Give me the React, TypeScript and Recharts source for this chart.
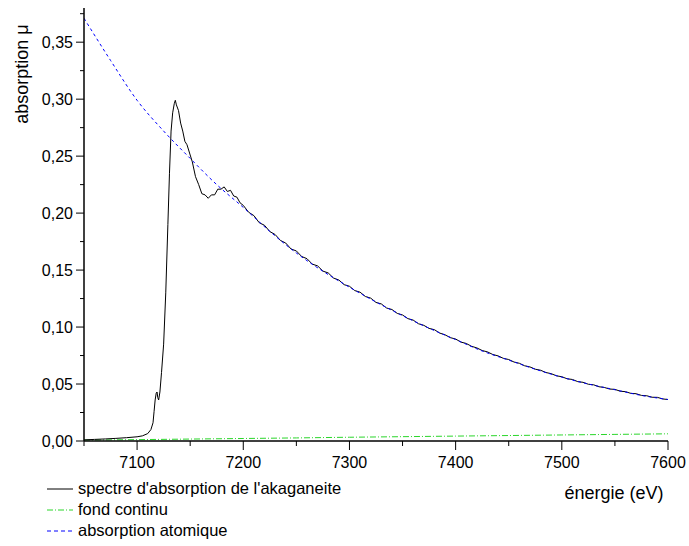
import React from 'react';
import { LineChart, Line, XAxis, YAxis } from 'recharts';

// ---- data ----
const spectreEnergy = [
  7050, 7060, 7070, 7080, 7090, 7100, 7105, 7110, 7113, 7115, 7116, 7117, 7118, 7118.8, 7119.5, 7120.3,
  7121.5, 7123, 7125, 7127, 7129, 7130.5, 7132, 7133.5, 7135, 7136, 7137, 7139, 7141, 7143, 7145, 7147,
  7150, 7152, 7155, 7158, 7161, 7164, 7167, 7170, 7173, 7176, 7179, 7182, 7185, 7188, 7191, 7194, 7197,
  7200, 7205, 7210, 7215, 7220, 7225, 7230, 7235, 7240, 7245, 7250, 7255, 7260, 7265, 7270, 7275, 7280,
  7285, 7290, 7295, 7300, 7305, 7310, 7315, 7320, 7325, 7330, 7335, 7340, 7345, 7350, 7355, 7360, 7365,
  7370, 7375, 7380, 7385, 7390, 7395, 7400, 7405, 7410, 7415, 7420, 7425, 7430, 7435, 7440, 7445, 7450,
  7455, 7460, 7465, 7470, 7475, 7480, 7485, 7490, 7495, 7500, 7505, 7510, 7515, 7520, 7525, 7530, 7535,
  7540, 7545, 7550, 7555, 7560, 7565, 7570, 7575, 7580, 7585, 7590, 7595, 7600,
];
const spectreMu = [
  0.0010, 0.0014, 0.0018, 0.0023, 0.0029, 0.0037, 0.0045, 0.0065, 0.0100, 0.0160, 0.026, 0.036, 0.042, 0.043, 0.038, 0.036,
  0.043, 0.060, 0.085, 0.130, 0.190, 0.235, 0.272, 0.288, 0.296, 0.299, 0.295, 0.290, 0.279, 0.272, 0.263, 0.260,
  0.251, 0.245, 0.232, 0.225, 0.217, 0.216, 0.213, 0.216, 0.216, 0.221, 0.221, 0.223, 0.219, 0.220, 0.215, 0.214, 0.209,
  0.2068, 0.2008, 0.1978, 0.1916, 0.1893, 0.1838, 0.1812, 0.1760, 0.1737, 0.1685, 0.1668, 0.1619, 0.1600, 0.1552, 0.1537, 0.1491, 0.1475,
  0.1430, 0.1413, 0.1372, 0.1358, 0.1320, 0.1306, 0.1268, 0.1254, 0.1216, 0.1203, 0.1167, 0.1154, 0.1120, 0.1106, 0.1074, 0.1061, 0.1029,
  0.1015, 0.0988, 0.0977, 0.0947, 0.0932, 0.0907, 0.0895, 0.0868, 0.0856, 0.0831, 0.0817, 0.0794, 0.0782, 0.0759, 0.0747, 0.0725, 0.0715,
  0.0693, 0.0682, 0.0660, 0.0650, 0.0630, 0.0621, 0.0601, 0.0591, 0.0572, 0.0564, 0.0546, 0.0540, 0.0521, 0.0515, 0.0498, 0.0493, 0.0476,
  0.0470, 0.0456, 0.0453, 0.0437, 0.0433, 0.0418, 0.0415, 0.0400, 0.0397, 0.0384, 0.0383, 0.0369, 0.0364,
];

const fondEnergy = [7050, 7100, 7150, 7200, 7250, 7300, 7350, 7400, 7450, 7500, 7550, 7600];
const fondMu = [0.0008, 0.0012, 0.0017, 0.0022, 0.0027, 0.0033, 0.0038, 0.0043, 0.0048, 0.0053, 0.0058, 0.0063];

const atomEnergy = [7050, 7075, 7100, 7125, 7150, 7175, 7200, 7225, 7250, 7275, 7300, 7325, 7350, 7375, 7400, 7425, 7450, 7475, 7500, 7525, 7550, 7575, 7600];
const atomMu = [0.371, 0.334, 0.299, 0.272, 0.248, 0.225, 0.205, 0.184, 0.165, 0.149, 0.135, 0.122, 0.110, 0.099, 0.089, 0.079, 0.071, 0.063, 0.056, 0.050, 0.045, 0.040, 0.0364];

const xTicks = [7050, 7100, 7150, 7200, 7250, 7300, 7350, 7400, 7450, 7500, 7550, 7600];
const xMajor = [7100, 7200, 7300, 7400, 7500, 7600];
const yTicks = [0, 0.025, 0.05, 0.075, 0.1, 0.125, 0.15, 0.175, 0.2, 0.225, 0.25, 0.275, 0.3, 0.325, 0.35, 0.375];
const yMajor = [0, 0.05, 0.1, 0.15, 0.2, 0.25, 0.3, 0.35];

const legendLabels = ["spectre d'absorption de l'akaganeite", 'fond continu', 'absorption atomique'];

const spectreData = spectreEnergy.map((e, i) => ({ e, mu: spectreMu[i] }));
const fondData = fondEnergy.map((e, i) => ({ e, mu: fondMu[i] }));
const atomData = atomEnergy.map((e, i) => ({ e, mu: atomMu[i] }));

const FONT = '"Liberation Sans", Arial, sans-serif';
const GREEN = '#2bd62b';
const BLUE = '#0000ff';

const XTick = (props: any) => {
  const { x, y, payload } = props;
  const major = xMajor.includes(payload.value);
  return (
    <g>
      <line x1={x} x2={x} y1={y} y2={y + (major ? 9 : 5)} stroke="#000" strokeWidth={1} />
      {major && (
        <text x={x} y={y + 27} textAnchor="middle" fontSize={16} fontFamily={FONT} fill="#000">
          {payload.value}
        </text>
      )}
    </g>
  );
};

const YTick = (props: any) => {
  const { x, y, payload } = props;
  const major = yMajor.some((m) => Math.abs(m - payload.value) < 1e-9);
  return (
    <g>
      <line x1={x - (major ? 8 : 4)} x2={x} y1={y} y2={y} stroke="#000" strokeWidth={1} />
      {major && (
        <text x={x - 11} y={y + 6} textAnchor="end" fontSize={16} fontFamily={FONT} fill="#000">
          {payload.value.toFixed(2).replace('.', ',')}
        </text>
      )}
    </g>
  );
};

const legendStyles = [
  { stroke: '#000', dash: undefined as string | undefined },
  { stroke: GREEN, dash: '6 2 1 2' },
  { stroke: BLUE, dash: '4 3' },
];

export default function App() {
  return (
    <div style={{ position: 'absolute', left: 0, top: 0, width: 689, height: 546, background: '#fff' }}>
      <LineChart width={689} height={546} margin={{ top: 8, right: 21, left: 0, bottom: 75 }}>
        <XAxis
          dataKey="e"
          type="number"
          domain={[7050, 7600]}
          ticks={xTicks}
          interval={0}
          allowDataOverflow
          tickSize={0}
          tickMargin={0}
          tickLine={false}
          tick={<XTick />}
          axisLine={{ stroke: '#000', strokeWidth: 1.5 }}
          height={30}
          label={(p: any) => {
            const vb = p.viewBox || {};
            return (
              <text x={vb.x + vb.width - 54} y={vb.y + 58} textAnchor="middle" fontSize={18} fontFamily={FONT} fill="#000">
                énergie (eV)
              </text>
            );
          }}
        />
        <YAxis
          type="number"
          domain={[0, 0.38]}
          ticks={yTicks}
          interval={0}
          allowDataOverflow
          width={84}
          tickSize={0}
          tickMargin={0}
          tickLine={false}
          tick={<YTick />}
          axisLine={{ stroke: '#000', strokeWidth: 1.5 }}
          label={() => (
            <text x={28} y={74} transform="rotate(-90 28 74)" textAnchor="middle" fontSize={18} fontFamily={FONT} fill="#000">
              absorption μ
            </text>
          )}
        />
        <Line data={fondData} dataKey="mu" type="linear" stroke={GREEN} strokeWidth={1} strokeDasharray="6 2 1 2" dot={false} isAnimationActive={false} />
        <Line data={spectreData} dataKey="mu" type="linear" stroke="#000" strokeWidth={1} dot={false} isAnimationActive={false} />
        <Line data={atomData} dataKey="mu" type="monotone" stroke={BLUE} strokeWidth={1} strokeDasharray="3 3" dot={false} isAnimationActive={false} />
      </LineChart>
      <div style={{ position: 'absolute', left: 0, top: 0, width: 689, height: 546, pointerEvents: 'none' }}>
        {legendLabels.map((label, i) => (
          <div key={label} style={{ position: 'absolute', left: 47, top: 478 + i * 21, height: 21, display: 'flex', alignItems: 'center' }}>
            <svg width={27} height={21} style={{ display: 'block' }}>
              <line x1={0} x2={26} y1={11} y2={11} stroke={legendStyles[i].stroke} strokeWidth={1} strokeDasharray={legendStyles[i].dash} />
            </svg>
            <span style={{ marginLeft: 4, fontFamily: FONT, fontSize: 16.5, color: '#000', whiteSpace: 'nowrap', lineHeight: '21px' }}>{label}</span>
          </div>
        ))}
      </div>
    </div>
  );
}
